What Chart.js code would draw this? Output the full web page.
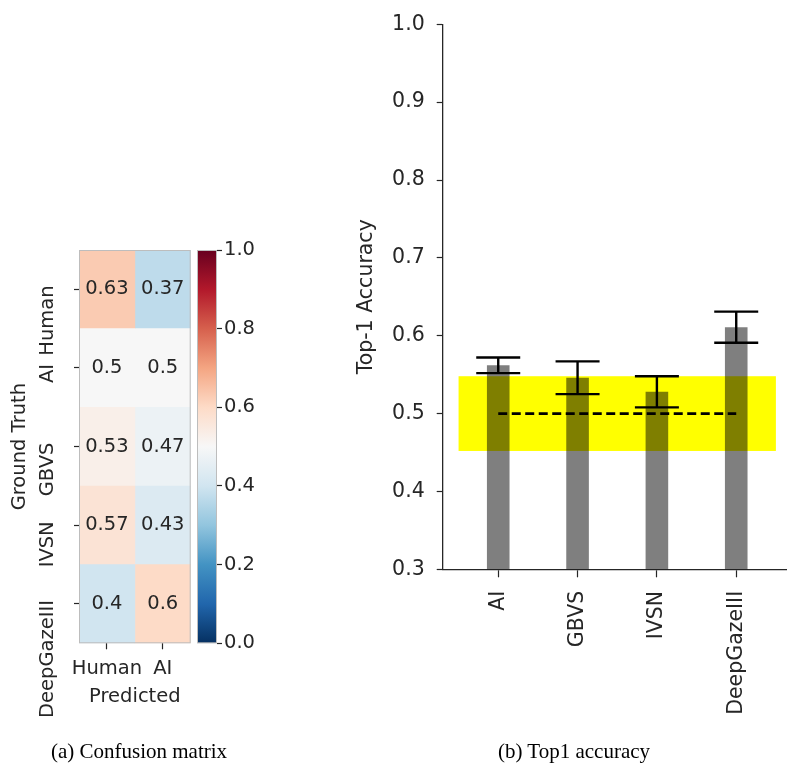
<!DOCTYPE html>
<html>
<head>
<meta charset="utf-8">
<script src="https://cdn.jsdelivr.net/npm/chart.js@4/dist/chart.umd.min.js"></script>
<style>
  html, body { margin: 0; padding: 0; background: #fff; overflow: hidden; }
  #wrap { position: relative; width: 787px; height: 769px; }
  canvas { position: absolute; top: 0; }
  .cap {
    position: absolute;
    font-family: "Liberation Serif", "Times New Roman", serif;
    font-size: 21px; line-height: 21px; color: #000;
    white-space: nowrap; transform: translateX(-50%);
  }
</style>
</head>
<body>
<div id="wrap">
  <canvas id="cm" width="200" height="769" style="left:0px"></canvas>
  <canvas id="cbar" width="110" height="769" style="left:190px"></canvas>
  <canvas id="acc" width="457" height="769" style="left:330px"></canvas>
  <div class="cap" style="left:139px; top:741px">(a) Confusion matrix</div>
  <div class="cap" style="left:574px; top:741px">(b) Top1 accuracy</div>
</div>

<script>
// ---- Confusion matrix (rows: ground truth, columns: predicted) ----
const GROUND_TRUTH = ['Human', 'AI', 'GBVS', 'IVSN', 'DeepGazeIII'];
const PREDICTED = ['Human', 'AI'];
const PRED_HUMAN = [0.63, 0.5, 0.53, 0.57, 0.4];
const PRED_AI = [0.37, 0.5, 0.47, 0.43, 0.6];
const CBAR_TICKS = [0.0, 0.2, 0.4, 0.6, 0.8, 1.0];

// ---- Top-1 accuracy per model ----
const MODELS = ['AI', 'GBVS', 'IVSN', 'DeepGazeIII'];
const TOP1 = [0.562, 0.546, 0.528, 0.611];
const TOP1_ERR = [0.010, 0.021, 0.020, 0.020];
const CHANCE = 0.5;
const HUMAN_BAND = [0.452, 0.548];
const ACC_TICKS = [0.3, 0.4, 0.5, 0.6, 0.7, 0.8, 0.9, 1.0];

const INK = '#262626';
const FAMILY = "'DejaVu Sans', sans-serif";
const fontS = { family: FAMILY, size: 19.5 };
const fontM = { family: FAMILY, size: 20.5 };

// RdBu reversed colour map (low = blue, high = red)
const RDBU_R = ['#053061', '#2166ac', '#4393c3', '#92c5de', '#d1e5f0', '#f7f7f7',
                '#fddbc7', '#f4a582', '#d6604d', '#b2182b', '#67001f'];
function hexRgb(h) { return [1, 3, 5].map(i => parseInt(h.slice(i, i + 2), 16)); }
function cmap(v) {
  const t = Math.min(Math.max(v, 0), 1) * (RDBU_R.length - 1);
  const i = Math.min(Math.floor(t), RDBU_R.length - 2);
  const f = t - i;
  const a = hexRgb(RDBU_R[i]), b = hexRgb(RDBU_R[i + 1]);
  const c = a.map((x, k) => Math.round(x + (b[k] - x) * f));
  return `rgb(${c[0]},${c[1]},${c[2]})`;
}

Chart.defaults.font.family = FAMILY;
Chart.defaults.color = INK;

// thin grey frame around a chart area
const frame = {
  id: 'frame',
  afterDraw(chart) {
    const { ctx, chartArea: a } = chart;
    ctx.save();
    ctx.strokeStyle = '#bdbdbd';
    ctx.lineWidth = 1;
    ctx.strokeRect(a.left + 0.5, a.top + 0.5, a.right - a.left - 1, a.bottom - a.top - 1);
    ctx.restore();
  }
};

// value annotations in each confusion-matrix cell
const cellText = {
  id: 'cellText',
  afterDatasetsDraw(chart) {
    const { ctx, scales: { x, y } } = chart;
    ctx.save();
    ctx.fillStyle = INK;
    ctx.font = `19.5px ${FAMILY}`;
    ctx.textAlign = 'center';
    ctx.textBaseline = 'middle';
    [PRED_HUMAN, PRED_AI].forEach((vals, c) => {
      vals.forEach((v, r) => {
        ctx.fillText(String(v), x.getPixelForValue(c + 0.5), y.getPixelForValue(r));
      });
    });
    ctx.restore();
  }
};

new Chart(document.getElementById('cm'), {
  type: 'bar',
  data: {
    labels: GROUND_TRUTH,
    datasets: [PRED_HUMAN, PRED_AI].map((vals, c) => ({
      label: PREDICTED[c],
      data: vals.map(() => [c, c + 1]),
      backgroundColor: vals.map(cmap),
      borderWidth: 0,
      grouped: false,
      barPercentage: 1,
      categoryPercentage: 1
    }))
  },
  options: {
    indexAxis: 'y',
    responsive: false,
    animation: false,
    devicePixelRatio: 1,
    layout: { padding: { left: 0, top: 250, right: 9.3, bottom: 45.7 } },
    plugins: { legend: { display: false }, tooltip: { enabled: false } },
    scales: {
      y: {
        type: 'category',
        position: 'left',
        offset: true,
        grid: { offset: false, drawOnChartArea: false, tickLength: 5, color: INK, tickWidth: 1.2 },
        border: { display: false },
        ticks: { autoSkip: false, minRotation: 90, maxRotation: 90, padding: 25.6, labelOffset: -4,
                 color: INK, font: fontS },
        title: { display: true, text: 'Ground Truth', color: INK, font: fontS, padding: { top: 8.3, bottom: 0 } },
        afterFit(s) { s.width = 79; }
      },
      x: {
        type: 'linear',
        min: 0,
        max: PREDICTED.length,
        grid: { offset: false, drawOnChartArea: false, tickLength: 6, color: INK, tickWidth: 1.2 },
        border: { display: false },
        afterBuildTicks(s) { s.ticks = PREDICTED.map((_, i) => ({ value: i + 0.5 })); },
        ticks: { autoSkip: false, maxRotation: 0, padding: 7.5, color: INK, font: fontS,
                 callback: (v, i) => PREDICTED[i] },
        title: { display: true, text: 'Predicted', color: INK, font: fontS, padding: { top: 0, bottom: 14.6 } },
        afterFit(s) { s.height = 80; }
      }
    }
  },
  plugins: [cellText, frame]
});

// colour bar for the confusion matrix
new Chart(document.getElementById('cbar'), {
  type: 'bar',
  data: {
    labels: [''],
    datasets: [{
      data: [[0, 1]],
      borderWidth: 0,
      barPercentage: 1,
      categoryPercentage: 1,
      backgroundColor(ctx) {
        const a = ctx.chart.chartArea;
        if (!a) return cmap(0.5);
        const g = ctx.chart.ctx.createLinearGradient(0, a.bottom, 0, a.top);
        RDBU_R.forEach((c, i) => g.addColorStop(i / (RDBU_R.length - 1), c));
        return g;
      }
    }]
  },
  options: {
    responsive: false,
    animation: false,
    devicePixelRatio: 1,
    layout: { padding: { left: 7, top: 250, right: 0, bottom: 125.7 } },
    plugins: { legend: { display: false }, tooltip: { enabled: false } },
    scales: {
      x: { display: false },
      y: {
        type: 'linear',
        position: 'right',
        min: 0,
        max: 1,
        grid: { drawOnChartArea: false, tickLength: 5, color: INK, tickWidth: 1.2 },
        border: { display: false },
        afterBuildTicks(s) { s.ticks = CBAR_TICKS.map(v => ({ value: v })); },
        ticks: { autoSkip: false, padding: 2, color: INK, font: fontS, callback: v => v.toFixed(1) },
        afterFit(s) { s.width = 83; }
      }
    }
  },
  plugins: [frame]
});

// ---- accuracy bar chart ----
const humanBand = {
  id: 'humanBand',
  beforeDatasetsDraw(chart) {
    const { ctx, scales: { x, y } } = chart;
    const x0 = x.getPixelForValue(-0.5), x1 = x.getPixelForValue(MODELS.length - 0.5);
    const y0 = y.getPixelForValue(HUMAN_BAND[1]), y1 = y.getPixelForValue(HUMAN_BAND[0]);
    ctx.save();
    ctx.fillStyle = '#ffff00';
    ctx.fillRect(x0, y0, x1 - x0, y1 - y0);
    ctx.restore();
  }
};

const CAP = 22;
const errorBars = {
  id: 'errorBars',
  afterDatasetsDraw(chart) {
    const { ctx, scales: { x, y } } = chart;
    ctx.save();
    ctx.strokeStyle = '#000';
    ctx.lineWidth = 2.4;
    TOP1.forEach((v, i) => {
      const px = x.getPixelForValue(i);
      const hi = y.getPixelForValue(v + TOP1_ERR[i]);
      const lo = y.getPixelForValue(v - TOP1_ERR[i]);
      ctx.beginPath();
      ctx.moveTo(px, hi); ctx.lineTo(px, lo);
      ctx.moveTo(px - CAP, hi); ctx.lineTo(px + CAP, hi);
      ctx.moveTo(px - CAP, lo); ctx.lineTo(px + CAP, lo);
      ctx.stroke();
    });
    ctx.restore();
  }
};

new Chart(document.getElementById('acc'), {
  type: 'bar',
  data: {
    datasets: [
      {
        type: 'bar',
        label: 'Top-1 Accuracy',
        data: TOP1.map((v, i) => ({ x: i, y: v })),
        backgroundColor: 'rgba(0,0,0,0.5)',
        borderWidth: 0,
        barPercentage: 0.285,
        categoryPercentage: 1,
        order: 2
      },
      {
        type: 'line',
        label: 'Chance',
        data: [{ x: 0, y: CHANCE }, { x: MODELS.length - 1, y: CHANCE }],
        borderColor: '#000',
        borderWidth: 2.6,
        borderDash: [9, 4.5],
        pointRadius: 0,
        order: 1
      }
    ]
  },
  options: {
    responsive: false,
    animation: false,
    devicePixelRatio: 1,
    layout: { padding: { left: 0, top: 17.7, right: 0, bottom: 0 } },
    plugins: { legend: { display: false }, tooltip: { enabled: false } },
    scales: {
      x: {
        type: 'linear',
        min: -0.7,
        max: 3.64,
        offset: false,
        grid: { offset: false, drawOnChartArea: false, tickLength: 8, color: INK, tickWidth: 1.2 },
        border: { display: true, color: INK, width: 1.3 },
        afterBuildTicks(s) { s.ticks = MODELS.map((_, i) => ({ value: i })); },
        ticks: { autoSkip: false, minRotation: 90, maxRotation: 90, padding: 13.5, color: INK, font: fontM,
                 callback: (v, i) => MODELS[i] },
        afterFit(s) { s.height = 199.7; }
      },
      y: {
        type: 'linear',
        min: 0.3,
        max: 1.0,
        grid: { drawOnChartArea: false, tickLength: 6, color: INK, tickWidth: 1.2 },
        border: { display: true, color: INK, width: 1.3 },
        afterBuildTicks(s) { s.ticks = ACC_TICKS.map(v => ({ value: v })); },
        ticks: { autoSkip: false, padding: 12, color: INK, font: fontM, callback: v => v.toFixed(1) },
        title: { display: true, text: 'Top-1 Accuracy', color: INK, font: fontM, padding: { top: 24.7, bottom: 0 } },
        afterFit(s) { s.width = 112.7; }
      }
    }
  },
  plugins: [humanBand, errorBars]
});
</script>
</body>
</html>
